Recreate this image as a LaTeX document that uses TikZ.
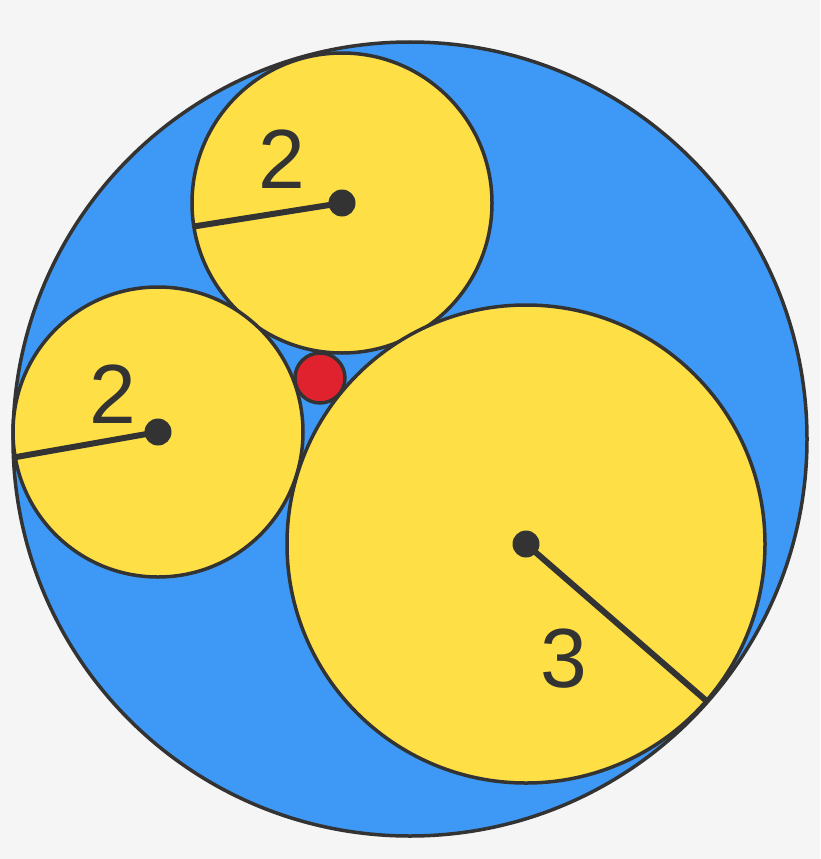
\documentclass[tikz,border=0pt]{standalone}
\usepackage{fontspec}
\setmainfont{Liberation Sans}
\definecolor{bgc}{HTML}{F5F5F5}
\definecolor{bluec}{HTML}{3D99F5}
\definecolor{yelc}{HTML}{FEE046}
\definecolor{redc}{HTML}{E0222E}
\definecolor{inkc}{HTML}{333333}
\tikzset{
  disc/.style={circle, draw=inkc, line width=3.5pt, inner sep=0pt, outer sep=0pt},
  yel/.style={disc, fill=yelc},
  dotc/.style={circle, fill=inkc, inner sep=0pt, minimum size=27pt},
  rad/.style={draw=inkc, line width=6pt},
  num/.style={text=inkc, font=\fontsize{84}{84}\selectfont}
}
\begin{document}
\begin{tikzpicture}[x=1pt,y=-1pt]
\fill[bgc] (0,0) rectangle (820,859);
\useasboundingbox (0,0) rectangle (820,859);
\node[disc, fill=bluec, minimum size=794pt] (outer) at (410,439) {};
\node[yel, minimum size=300pt] (topc) at (342,203) {};
\node[yel, minimum size=290pt] (leftc) at (158,432) {};
\node[yel, minimum size=478pt] (bigc) at (526,544) {};
\node[disc, fill=redc, minimum size=50pt] (redd) at (320,378) {};
\path (topc.189.7) coordinate (te);
\path (leftc.190.4) coordinate (le);
\path (bigc.-41.9) coordinate (be);
\draw[rad] (topc.center) -- (te);
\draw[rad] (leftc.center) -- (le);
\draw[rad] (bigc.center) -- (be);
\node[dotc] (td) at (topc.center) {};
\node[dotc] (ld) at (leftc.center) {};
\node[dotc] (bd) at (bigc.center) {};
\node[num] (l1) at (282,159) {2};
\node[num] (l2) at (113,394) {2};
\node[num] (l3) at (564,659) {3};
\end{tikzpicture}
\end{document}
